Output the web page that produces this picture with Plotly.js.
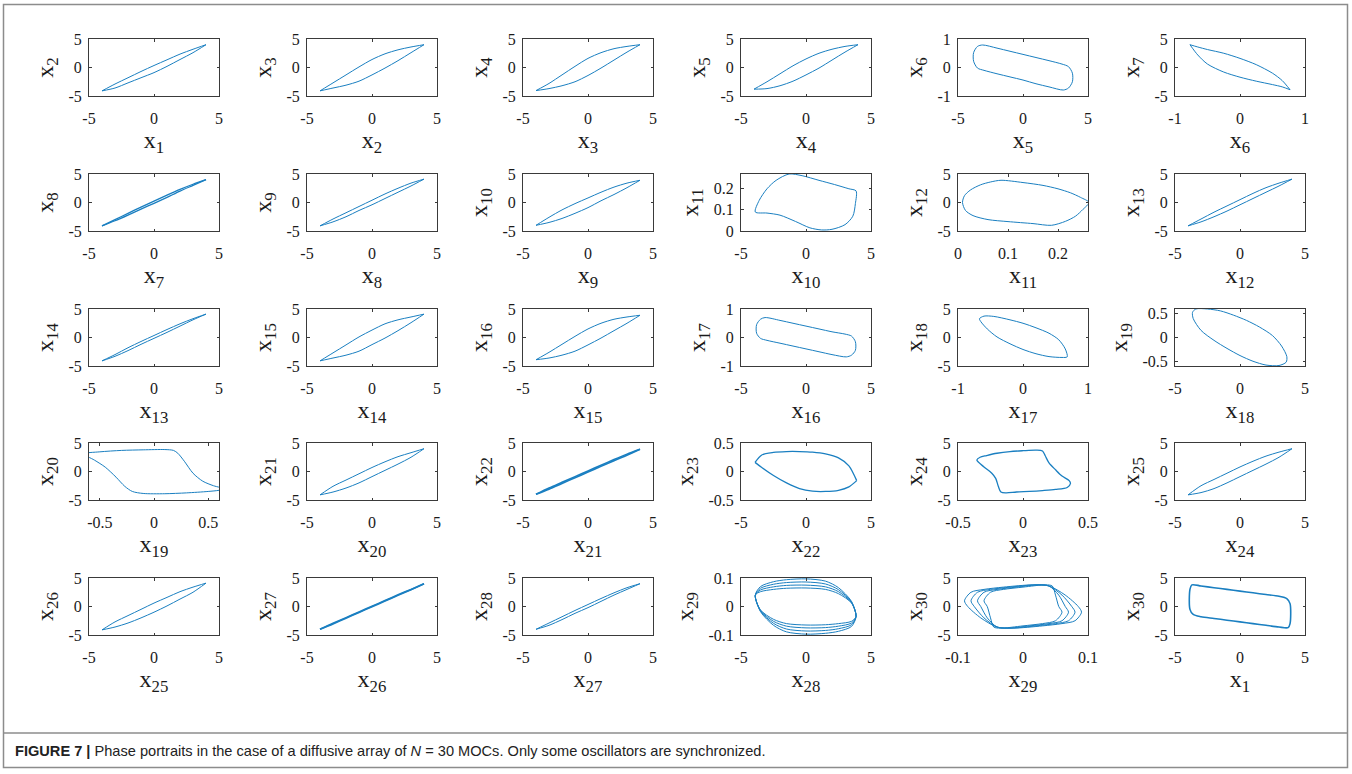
<!DOCTYPE html>
<html><head><meta charset="utf-8">
<script src="https://cdn.plot.ly/plotly-3.0.1.min.js"></script>
<style>html,body{margin:0;padding:0;background:#fff}#chart{width:1352px;height:774px}</style>
</head><body><div id="chart"></div>
<script>
// ---------- DATA ----------
// common x grid for the thin "lens" portraits (x_{k+1} vs x_k)
const LX = [-4,-3,-2,-1,0,1,2,3,4];
const x1x2_up = [-4.1,-2.9,-1.8,-0.7,0.35,1.35,2.35,3.2,4.0];
const x1x2_lo = [-4.1,-3.6,-2.7,-1.8,-0.9,0.2,1.4,2.6,4.0];
const x2x3_up = [-4.1,-2.7,-1.3,0.1,1.4,2.4,3.1,3.6,4.0];
const x2x3_lo = [-4.1,-3.6,-3.1,-2.4,-1.3,-0.1,1.2,2.6,4.0];
const x3x4_up = [-4.05,-2.8,-1.3,0.2,1.6,2.6,3.3,3.7,4.0];
const x3x4_lo = [-4.05,-3.7,-3.2,-2.5,-1.4,-0.1,1.3,2.7,4.0];
const x4x5_up = [-3.8,-2.5,-1.1,0.3,1.5,2.5,3.2,3.7,4.0];
const x4x5_lo = [-3.8,-3.7,-3.2,-2.4,-1.3,-0.1,1.3,2.7,4.0];
const x7x8_up = [-4.1,-3.0,-1.9,-0.8,0.25,1.3,2.3,3.2,4.0];
const x7x8_lo = [-4.1,-3.2,-2.2,-1.15,-0.15,0.9,2.0,3.0,4.0];
const x8x9_up = [-4.1,-2.9,-1.8,-0.7,0.4,1.5,2.5,3.4,4.1];
const x8x9_lo = [-4.1,-3.4,-2.5,-1.4,-0.4,0.7,1.8,2.9,4.1];
const x9x10_up = [-4.0,-2.6,-1.3,-0.2,0.8,1.8,2.7,3.4,3.9];
const x9x10_lo = [-4.0,-3.5,-2.8,-1.9,-0.9,0.3,1.4,2.6,3.9];
const x12x13_up = [-4.1,-2.9,-1.7,-0.6,0.5,1.6,2.6,3.4,4.1];
const x12x13_lo = [-4.1,-3.4,-2.5,-1.5,-0.4,0.7,1.8,2.9,4.1];
const x13x14_up = [-4.1,-3.0,-1.8,-0.7,0.35,1.4,2.4,3.3,4.1];
const x13x14_lo = [-4.1,-3.3,-2.3,-1.2,-0.15,0.9,2.0,3.1,4.1];
const x14x15_up = [-4.1,-2.7,-1.3,0.1,1.3,2.4,3.1,3.6,4.1];
const x14x15_lo = [-4.1,-3.6,-3.1,-2.4,-1.25,-0.1,1.2,2.6,4.1];
const x15x16_up = [-3.9,-2.6,-1.2,0.2,1.5,2.5,3.2,3.6,3.9];
const x15x16_lo = [-3.9,-3.6,-3.1,-2.4,-1.3,-0.1,1.2,2.5,3.9];
const x20x21_up = [-4.1,-2.6,-1.5,-0.4,0.7,1.7,2.6,3.3,4.0];
const x20x21_lo = [-4.1,-3.6,-2.9,-2.0,-0.9,0.2,1.3,2.5,4.0];
const x21x22_up = [-4.0,-2.9,-1.9,-0.9,0.1,1.1,2.1,3.05,3.9];
const x21x22_lo = [-4.0,-3.1,-2.1,-1.1,-0.1,0.9,1.9,2.85,3.9];
const x24x25_up = [-4.1,-2.5,-1.4,-0.3,0.8,1.8,2.7,3.4,4.0];
const x24x25_lo = [-4.1,-3.7,-3.0,-2.0,-0.9,0.2,1.3,2.5,4.0];
const x25x26_up = [-4.1,-2.7,-1.6,-0.5,0.6,1.6,2.6,3.4,4.1];
const x25x26_lo = [-4.1,-3.6,-2.9,-2.0,-1.0,0.1,1.3,2.5,4.1];
const x26x27_up = [-4.0,-2.95,-1.95,-0.95,0.05,1.05,2.05,3.0,4.0];
const x26x27_lo = [-4.0,-3.05,-2.05,-1.05,-0.05,0.95,1.95,2.95,4.0];
const x27x28_up = [-4.0,-2.9,-1.8,-0.7,0.35,1.4,2.4,3.3,4.0];
const x27x28_lo = [-4.0,-3.3,-2.3,-1.2,-0.2,0.9,2.0,3.0,4.0];

// x7 vs x6 (two branches)
const x6x7_x  = [-0.77,-0.65,-0.5,-0.25,0,0.25,0.5,0.65,0.77];
const x6x7_up = [4.0,3.6,3.15,2.5,1.6,0.5,-1.0,-2.3,-3.9];
const x6x7_lo = [4.0,2.2,0.6,-0.8,-1.7,-2.4,-3.0,-3.4,-3.9];
// x23 vs x22 (two branches)
const x22x23_x  = [-3.92,-3.4,-2.5,-1.5,-0.5,0.5,1.5,2.5,3.3,3.9];
const x22x23_up = [0.16,0.29,0.335,0.35,0.35,0.34,0.31,0.24,0.1,-0.16];
const x22x23_lo = [0.16,0.07,-0.07,-0.2,-0.3,-0.345,-0.35,-0.33,-0.27,-0.16];

// closed loops
const x5x6_x = [-3.1,-2,-1,0,1,2,3,3.5,3.8,3.8,3.5,3.1,2,1,0,-1,-2,-3,-3.5,-3.8,-3.8,-3.5,-3.1];
const x5x6_y = [0.79,0.68,0.57,0.46,0.35,0.24,0.12,0.03,-0.2,-0.5,-0.72,-0.79,-0.68,-0.57,-0.44,-0.33,-0.22,-0.1,-0.02,0.22,0.52,0.74,0.79];
const x10x11_x = [-3.9,-3.6,-3.0,-2.3,-1.3,-0.3,1.0,2.2,3.3,3.85,3.8,3.6,3.0,2.0,1.2,0.3,-0.8,-2.0,-3.0,-3.9];
const x10x11_y = [0.09,0.145,0.2,0.24,0.27,0.262,0.24,0.22,0.2,0.19,0.13,0.07,0.03,0.008,0.005,0.015,0.045,0.075,0.085,0.09];
const x11x12_x = [0.086,0.13,0.17,0.2,0.225,0.245,0.262,0.25,0.235,0.215,0.187,0.15,0.1,0.06,0.03,0.015,0.009,0.013,0.025,0.045,0.065,0.086];
const x11x12_y = [3.9,3.5,3.0,2.4,1.7,0.9,0.0,-1.2,-2.4,-3.3,-4.0,-3.7,-3.35,-3.0,-2.3,-1.4,0.0,1.2,2.2,3.1,3.6,3.9];
const x16x17_x = [-3.15,-2,-1,0,1,2,3,3.5,3.8,3.8,3.5,3.1,2,1,0,-1,-2,-3,-3.5,-3.8,-3.8,-3.5,-3.15];
const x16x17_y = [0.7,0.6,0.5,0.4,0.3,0.2,0.12,0.05,-0.15,-0.45,-0.62,-0.68,-0.6,-0.5,-0.4,-0.3,-0.2,-0.1,-0.03,0.15,0.45,0.64,0.7];
const x17x18_x = [-0.67,-0.6,-0.45,-0.2,0,0.2,0.4,0.55,0.65,0.68,0.6,0.4,0.2,0,-0.2,-0.4,-0.55,-0.65,-0.67];
const x17x18_y = [3.3,3.75,3.7,3.1,2.5,1.7,0.75,-0.4,-2.0,-3.4,-3.5,-3.35,-2.85,-2.1,-1.1,0.1,1.5,2.8,3.3];
const x18x19_x = [-3.4,-2.5,-1.5,-0.5,0.5,1.5,2.5,3.2,3.6,3.55,3.0,2.0,1.0,0,-1,-2,-3,-3.6,-3.65,-3.4];
const x18x19_y = [0.6,0.6,0.56,0.47,0.36,0.22,0.04,-0.18,-0.4,-0.52,-0.59,-0.58,-0.5,-0.38,-0.23,-0.06,0.15,0.4,0.53,0.6];
const x19x20_x = [-0.65,-0.5,-0.3,-0.1,0.1,0.18,0.22,0.28,0.36,0.45,0.55,0.65,0.6,0.5,0.3,0.1,-0.1,-0.2,-0.27,-0.35,-0.45,-0.55,-0.65];
const x19x20_y = [3.1,3.45,3.7,3.8,3.85,3.7,3.2,1.8,-0.3,-1.7,-2.5,-3.05,-3.3,-3.5,-3.75,-3.9,-3.85,-3.5,-2.6,-1.0,0.76,2.0,3.1];
const x23x24_x = [-0.355,-0.33,-0.28,-0.2,-0.1,0.0,0.1,0.15,0.17,0.2,0.25,0.3,0.355,0.365,0.34,0.25,0.15,0.05,-0.05,-0.13,-0.17,-0.19,-0.21,-0.24,-0.3,-0.355];
const x23x24_y = [2.0,2.5,2.8,3.2,3.5,3.65,3.75,3.6,2.8,1.5,0.3,-0.8,-1.6,-2.1,-2.8,-3.15,-3.35,-3.5,-3.6,-3.75,-3.6,-2.6,-1.2,-0.3,0.8,2.0];
// x29 vs x28: nested loops
const x28x29_x  = [-3.9,-3.5,-2.5,-1.5,0,1.5,2.5,3.5,3.85,3.5,2.5,1.5,0,-1.5,-2.5,-3.5,-3.9];
const x28x29_yA = [0.04,0.052,0.06,0.064,0.065,0.06,0.045,0.012,-0.035,-0.052,-0.06,-0.064,-0.065,-0.06,-0.045,-0.012,0.04];
const x28x29_yB = [0.04,0.058,0.069,0.074,0.075,0.069,0.052,0.014,-0.035,-0.058,-0.069,-0.074,-0.075,-0.069,-0.052,-0.014,0.04];
const x28x29_yC = [0.04,0.064,0.078,0.084,0.086,0.079,0.059,0.016,-0.035,-0.064,-0.078,-0.084,-0.086,-0.079,-0.059,-0.016,0.04];
const x28x29_yD = [0.04,0.07,0.087,0.094,0.097,0.089,0.066,0.018,-0.035,-0.07,-0.087,-0.094,-0.097,-0.089,-0.066,-0.018,0.04];
// x30 vs x29: nested loops
const x29x30_y  = [1.0,2.5,3.0,3.4,3.8,3.6,2.0,0.0,-1.0,-2.5,-3.0,-3.4,-3.8,-3.6,-2.0,0.0,1.0];
const x29x30_xA = [-0.06,-0.05,-0.03,0.0,0.035,0.045,0.05,0.055,0.06,0.05,0.03,0.0,-0.035,-0.045,-0.05,-0.055,-0.06];
const x29x30_xB = [-0.07,-0.06,-0.04,-0.01,0.025,0.04,0.055,0.065,0.07,0.06,0.04,0.01,-0.025,-0.04,-0.055,-0.065,-0.07];
const x29x30_xC = [-0.08,-0.07,-0.05,-0.02,0.02,0.04,0.06,0.075,0.08,0.07,0.05,0.02,-0.02,-0.04,-0.06,-0.075,-0.08];
const x29x30_xD = [-0.09,-0.08,-0.06,-0.03,0.015,0.04,0.065,0.085,0.09,0.08,0.06,0.03,-0.015,-0.04,-0.065,-0.085,-0.09];
// x30 vs x1
const x1x30_x = [-3.7,-3.0,-2.0,-1.0,0.0,1.0,2.0,3.0,3.6,3.85,3.85,3.7,3.0,2.0,1.0,0.0,-1.0,-2.0,-3.0,-3.6,-3.85,-3.85,-3.7];
const x1x30_y = [3.8,3.6,3.3,3.0,2.7,2.4,2.1,1.8,1.4,0.5,-3.0,-3.7,-3.6,-3.3,-3.0,-2.7,-2.4,-2.1,-1.8,-1.4,-0.5,3.0,3.8];

// tick sets
const T5  = {v:[-5,0,5], t:['-5','0','5']};
const T1  = {v:[-1,0,1], t:['-1','0','1']};
const T05 = {v:[-0.5,0,0.5], t:['-0.5','0','0.5']};
const T01 = {v:[-0.1,0,0.1], t:['-0.1','0','0.1']};
const T02 = {v:[0,0.1,0.2], t:['0','0.1','0.2']};

// ---------- LAYOUT / DRAWING ----------
const W=1352, H=774;
const colLeft=[89,307,523,741,958,1175], rowTop=[39,174,309,443,578], PW=130, PH=57;
const R5=[-5,5], R1=[-1,1], R05=[-0.5,0.5], R01=[-0.1,0.1], R06=[-0.6,0.6], R27=[0,0.27], R26=[0,0.26];
const lens=(u,l,x)=>({branches:[[x||LX,u],[x||LX,l]]});
const loops=(...arr)=>({loops:arr});
const panels=[
 {xl:'x<sub>1</sub>', yl:'x<sub>2</sub>', xr:R5,yr:R5,xt:T5,yt:T5, ...lens(x1x2_up,x1x2_lo)},
 {xl:'x<sub>2</sub>', yl:'x<sub>3</sub>', xr:R5,yr:R5,xt:T5,yt:T5, ...lens(x2x3_up,x2x3_lo)},
 {xl:'x<sub>3</sub>', yl:'x<sub>4</sub>', xr:R5,yr:R5,xt:T5,yt:T5, ...lens(x3x4_up,x3x4_lo)},
 {xl:'x<sub>4</sub>', yl:'x<sub>5</sub>', xr:R5,yr:R5,xt:T5,yt:T5, ...lens(x4x5_up,x4x5_lo)},
 {xl:'x<sub>5</sub>', yl:'x<sub>6</sub>', xr:R5,yr:R1,xt:T5,yt:T1, ...loops([x5x6_x,x5x6_y])},
 {xl:'x<sub>6</sub>', yl:'x<sub>7</sub>', xr:R1,yr:R5,xt:T1,yt:T5, ...lens(x6x7_up,x6x7_lo,x6x7_x)},
 {xl:'x<sub>7</sub>', yl:'x<sub>8</sub>', xr:R5,yr:R5,xt:T5,yt:T5, ...lens(x7x8_up,x7x8_lo), w:1.3},
 {xl:'x<sub>8</sub>', yl:'x<sub>9</sub>', xr:R5,yr:R5,xt:T5,yt:T5, ...lens(x8x9_up,x8x9_lo)},
 {xl:'x<sub>9</sub>', yl:'x<sub>10</sub>', xr:R5,yr:R5,xt:T5,yt:T5, ...lens(x9x10_up,x9x10_lo)},
 {xl:'x<sub>10</sub>', yl:'x<sub>11</sub>', xr:R5,yr:R27,xt:T5,yt:T02, ...loops([x10x11_x,x10x11_y])},
 {xl:'x<sub>11</sub>', yl:'x<sub>12</sub>', xr:R26,yr:R5,xt:T02,yt:T5, ...loops([x11x12_x,x11x12_y])},
 {xl:'x<sub>12</sub>', yl:'x<sub>13</sub>', xr:R5,yr:R5,xt:T5,yt:T5, ...lens(x12x13_up,x12x13_lo)},
 {xl:'x<sub>13</sub>', yl:'x<sub>14</sub>', xr:R5,yr:R5,xt:T5,yt:T5, ...lens(x13x14_up,x13x14_lo)},
 {xl:'x<sub>14</sub>', yl:'x<sub>15</sub>', xr:R5,yr:R5,xt:T5,yt:T5, ...lens(x14x15_up,x14x15_lo)},
 {xl:'x<sub>15</sub>', yl:'x<sub>16</sub>', xr:R5,yr:R5,xt:T5,yt:T5, ...lens(x15x16_up,x15x16_lo)},
 {xl:'x<sub>16</sub>', yl:'x<sub>17</sub>', xr:R5,yr:R1,xt:T5,yt:T1, ...loops([x16x17_x,x16x17_y])},
 {xl:'x<sub>17</sub>', yl:'x<sub>18</sub>', xr:R1,yr:R5,xt:T1,yt:T5, ...loops([x17x18_x,x17x18_y])},
 {xl:'x<sub>18</sub>', yl:'x<sub>19</sub>', xr:R5,yr:R06,xt:T5,yt:T05, ...loops([x18x19_x,x18x19_y])},
 {xl:'x<sub>19</sub>', yl:'x<sub>20</sub>', xr:R06,yr:R5,xt:T05,yt:T5, ...loops([x19x20_x,x19x20_y])},
 {xl:'x<sub>20</sub>', yl:'x<sub>21</sub>', xr:R5,yr:R5,xt:T5,yt:T5, ...lens(x20x21_up,x20x21_lo)},
 {xl:'x<sub>21</sub>', yl:'x<sub>22</sub>', xr:R5,yr:R5,xt:T5,yt:T5, ...lens(x21x22_up,x21x22_lo), w:1.6},
 {xl:'x<sub>22</sub>', yl:'x<sub>23</sub>', xr:R5,yr:R05,xt:T5,yt:T05, ...lens(x22x23_up,x22x23_lo,x22x23_x), w:1.3},
 {xl:'x<sub>23</sub>', yl:'x<sub>24</sub>', xr:R05,yr:R5,xt:T05,yt:T5, ...loops([x23x24_x,x23x24_y]), w:1.3},
 {xl:'x<sub>24</sub>', yl:'x<sub>25</sub>', xr:R5,yr:R5,xt:T5,yt:T5, ...lens(x24x25_up,x24x25_lo)},
 {xl:'x<sub>25</sub>', yl:'x<sub>26</sub>', xr:R5,yr:R5,xt:T5,yt:T5, ...lens(x25x26_up,x25x26_lo)},
 {xl:'x<sub>26</sub>', yl:'x<sub>27</sub>', xr:R5,yr:R5,xt:T5,yt:T5, ...lens(x26x27_up,x26x27_lo), w:1.6},
 {xl:'x<sub>27</sub>', yl:'x<sub>28</sub>', xr:R5,yr:R5,xt:T5,yt:T5, ...lens(x27x28_up,x27x28_lo)},
 {xl:'x<sub>28</sub>', yl:'x<sub>29</sub>', xr:R5,yr:R01,xt:T5,yt:T01, ...loops([x28x29_x,x28x29_yA],[x28x29_x,x28x29_yB],[x28x29_x,x28x29_yC],[x28x29_x,x28x29_yD])},
 {xl:'x<sub>29</sub>', yl:'x<sub>30</sub>', xr:R01,yr:R5,xt:T01,yt:T5, ...loops([x29x30_xA,x29x30_y],[x29x30_xB,x29x30_y],[x29x30_xC,x29x30_y],[x29x30_xD,x29x30_y])},
 {xl:'x<sub>1</sub>', yl:'x<sub>30</sub>', xr:R5,yr:R5,xt:T5,yt:T5, ...loops([x1x30_x,x1x30_y]), w:1.6}
];

const LINE='#1a7fc1', AX='#3a3a3a', TXT='#1a1a1a', SERIF='Liberation Serif, Times New Roman, serif';
const traces=[]; const layout={
  width:W, height:H, margin:{l:0,r:0,t:0,b:0}, paper_bgcolor:'#fff', plot_bgcolor:'#fff',
  showlegend:false, shapes:[], annotations:[]
};
panels.forEach((p,i)=>{
  const n=i+1, xs=n===1?'':String(n);
  const c=i%6, r=Math.floor(i/6);
  const L=colLeft[c], T=rowTop[r];
  const common={showline:true, mirror:'ticks', linecolor:AX, linewidth:1, ticks:'inside', ticklen:2.5, tickwidth:1, tickcolor:AX,
    showgrid:false, zeroline:false, fixedrange:true, tickmode:'array', tickfont:{family:SERIF,size:16,color:TXT}};
  layout['xaxis'+xs]={...common, domain:[L/W,(L+PW)/W], range:p.xr, anchor:'y'+xs, tickvals:p.xt.v, ticktext:p.xt.t,
     ticklabelstandoff:8, title:{text:p.xl, font:{family:SERIF,size:24,color:TXT}, standoff:2}};
  layout['yaxis'+xs]={...common, domain:[1-(T+PH)/H,1-T/H], range:p.yr, anchor:'x'+xs, tickvals:p.yt.v, ticktext:p.yt.t,
     ticklabelstandoff:3, title:{text:p.yl, font:{family:SERIF,size:24,color:TXT}, standoff:8}};
  const w=p.w||1;
  const mk=(x,y)=>({type:'scatter', mode:'lines', x, y, xaxis:'x'+xs, yaxis:'y'+xs, hoverinfo:'skip',
      line:{color:LINE, width:w, shape:'spline', smoothing:0.8}, cliponaxis:true});
  (p.branches||[]).forEach(b=>traces.push(mk(b[0],b[1])));
  (p.loops||[]).forEach(b=>traces.push(mk(b[0],b[1])));
});
// frame and caption
const px=v=>v/W, py=v=>1-v/H;
layout.shapes.push({type:'rect', xref:'paper', yref:'paper', x0:px(3.5), x1:px(1347.5), y0:py(4.5), y1:py(767.5), line:{color:'#8c8c8c', width:1.5}});
layout.shapes.push({type:'line', xref:'paper', yref:'paper', x0:px(3.5), x1:px(1347.5), y0:py(733), y1:py(733), line:{color:'#8c8c8c', width:1.5}});
layout.annotations.push({xref:'paper', yref:'paper', x:px(13), y:py(751), xanchor:'left', yanchor:'middle', showarrow:false,
  text:'<b>FIGURE 7 |</b> Phase portraits in the case of a diffusive array of <i>N</i> = 30 MOCs. Only some oscillators are synchronized.',
  font:{family:'Liberation Sans, Arial, sans-serif', size:14.6, color:'#222'}});
Plotly.newPlot('chart', traces, layout, {staticPlot:true, displayModeBar:false});
</script>
</body></html>
